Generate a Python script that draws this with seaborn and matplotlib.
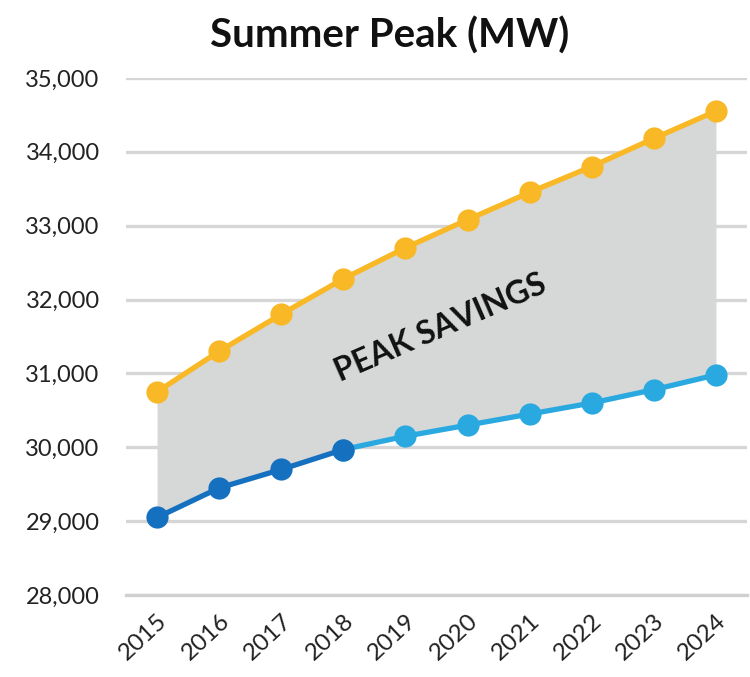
import numpy as np
import pandas as pd
import matplotlib
matplotlib.use('Agg')
import matplotlib.pyplot as plt
import matplotlib.transforms as mtransforms
import seaborn as sns

years = ['2015', '2016', '2017', '2018', '2019', '2020', '2021', '2022', '2023', '2024']
forecast = [30750, 31300, 31800, 32280, 32700, 33080, 33450, 33800, 34180, 34550]
with_savings = [29050, 29450, 29700, 29970, 30150, 30300, 30450, 30600, 30780, 30980]
n_actual = 4  # 2015-2018 drawn in dark blue

sns.set_style('white')
plt.rcParams['font.family'] = ['Lato', 'DejaVu Sans']

df = pd.DataFrame({'pos': np.arange(len(years)), 'year': years,
                   'forecast': forecast, 'savings': with_savings})

fig = plt.figure(figsize=(7.5, 6.77), dpi=100)
ax = fig.add_axes([0.168, 0.121, 0.828, 0.764])

ax.fill_between(df['pos'], df['savings'], df['forecast'], color='#d6d7d7', lw=0, zorder=1)

line_kw = dict(linewidth=3.8, marker='o', markersize=16, markeredgewidth=0, clip_on=False, zorder=3)
sns.lineplot(data=df, x='pos', y='forecast', color='#f9b825', ax=ax, **line_kw)
sns.lineplot(data=df.iloc[n_actual - 1:], x='pos', y='savings', color='#2aa9e0', ax=ax, **line_kw)
sns.lineplot(data=df.iloc[:n_actual], x='pos', y='savings', color='#1570bf', ax=ax, **line_kw)

ax.set_xlim(-0.5, len(years) - 0.5)
ax.set_ylim(28000, 35000)
ax.set_yticks(range(28000, 35001, 1000))
ax.yaxis.set_major_formatter(matplotlib.ticker.StrMethodFormatter('{x:,.0f}'))
ax.set_xticks(df['pos'])
ax.set_xticklabels(years, rotation=43, ha='right', rotation_mode='anchor')
# nudge year labels a bit right so their ends sit near the points
shift = mtransforms.ScaledTranslation(7 / 100, 0, fig.dpi_scale_trans)
for lab in ax.get_xticklabels():
    lab.set_transform(lab.get_transform() + shift)
ax.set_xticks(np.arange(-0.5, len(years)), minor=True)
ax.tick_params(axis='x', which='major', length=0, labelsize=17.5, pad=11, colors='#222222')
ax.tick_params(axis='x', which='minor', length=7, width=2, color='#d0d0d0')
ax.tick_params(axis='y', length=0, labelsize=17, pad=19, colors='#222222')
ax.grid(axis='y', color='#d6d6d6', linewidth=2.4, zorder=0)
ax.set_axisbelow(True)
for s in ['top', 'right', 'left']:
    ax.spines[s].set_visible(False)
ax.spines['bottom'].set_color('#d0d0d0')
ax.spines['bottom'].set_linewidth(2.4)
ax.set_xlabel('')
ax.set_ylabel('')

ax.text(4.57, 31620, 'PEAK SAVINGS', rotation=23.5, fontsize=23, fontweight='bold',
        ha='center', va='center', color='#111111', zorder=4)

fig.text(0.52, 0.948, 'Summer Peak (MW)', ha='center', va='center',
         fontsize=29, fontweight='bold', color='#111111')

fig.savefig('out.png', dpi=100)
